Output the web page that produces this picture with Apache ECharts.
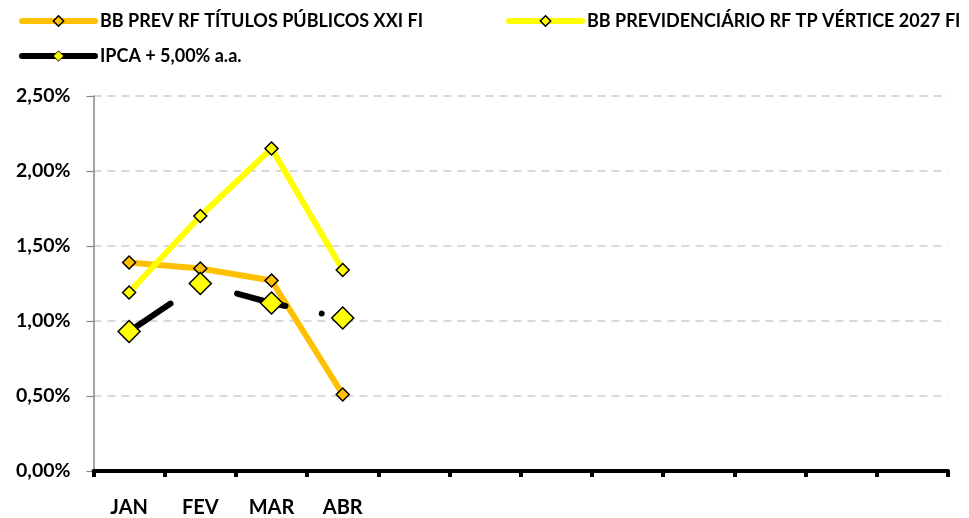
<!DOCTYPE html>
<html>
<head>
<meta charset="utf-8">
<script src="https://cdn.jsdelivr.net/npm/echarts@6/dist/echarts.min.js"></script>
<style>
html,body{margin:0;padding:0;background:#fff;}
#c{width:969px;height:518px;}
</style>
</head>
<body>
<div id="c"></div>
<script>
const categories = ['JAN','FEV','MAR','ABR','','','','','','','',''];
const tituloXXI = [1.39, 1.35, 1.27, 0.51];
const vertice2027 = [1.19, 1.70, 2.15, 1.34];
const ipca5 = [0.93, 1.25, 1.12, 1.02];
const yTicks = {min: 0, max: 2.5, interval: 0.5};
const seriesNames = ['BB PREV RF TÍTULOS PÚBLICOS XXI FI','BB PREVIDENCIÁRIO RF TP VÉRTICE 2027 FI','IPCA + 5,00% a.a.'];

const FONT = 'Lato';
const chart = echarts.init(document.getElementById('c'), null, {renderer:'canvas'});
const txt = {fontFamily: FONT, fontWeight: 'bold', fontSize: 19, color: '#000'};
const legText = Object.assign({}, txt, {fontSize: 18, lineHeight: 20});
const legLine = () => ({type: 'solid', width: 6, cap: 'round'});

chart.setOption({
  animation: false,
  backgroundColor: '#fff',
  legend: [
    {
      orient: 'vertical', left: 19, top: 11, padding: 0, itemWidth: 73, itemHeight: 13, itemGap: 15,
      textStyle: legText,
      data: [
        {name: seriesNames[0], lineStyle: legLine(), itemStyle: {color:'#FFC000', borderColor:'#000', borderWidth:1.5}},
        {name: seriesNames[2], lineStyle: legLine(), itemStyle: {color:'#FFFF00', borderColor:'#000', borderWidth:1}}
      ]
    },
    {
      orient: 'vertical', left: 506, top: 11, padding: 0, itemWidth: 73, itemHeight: 13,
      textStyle: legText,
      data: [{name: seriesNames[1], lineStyle: legLine(), itemStyle: {color:'#FFFF00', borderColor:'#000', borderWidth:1.5}}]
    }
  ],
  grid: {left: 93.5, right: 21, top: 96, bottom: 47, containLabel: false},
  xAxis: {
    type: 'category',
    data: categories,
    boundaryGap: true,
    axisLine: {lineStyle: {color: '#000', width: 4}},
    axisTick: {show: true, length: 6, lineStyle: {color:'#000', width: 4}, alignWithLabel: false, interval: 0},
    axisLabel: Object.assign({}, txt, {fontSize: 20, margin: 27, interval: 0}),
    splitLine: {show: false}
  },
  yAxis: {
    type: 'value',
    min: yTicks.min, max: yTicks.max, interval: yTicks.interval,
    axisLine: {show: true, lineStyle: {color: '#868686', width: 1.5}},
    axisTick: {show: true, length: 7, lineStyle: {color: '#868686', width: 1.2}},
    axisLabel: Object.assign({}, txt, {fontSize: 19.5, margin: 23, formatter: v => v.toFixed(2).replace('.', ',') + '%'}),
    splitLine: {show: true, lineStyle: {color: '#d9d9d9', width: 2, type: [8, 6]}}
  },
  series: [
    {
      name: seriesNames[0], type: 'line', data: tituloXXI,
      symbol: 'diamond', symbolSize: 13,
      lineStyle: {color: '#FFC000', width: 6, cap: 'round', join: 'round'},
      itemStyle: {color: '#FFC000', borderColor: '#000', borderWidth: 1.5},
      z: 2
    },
    {
      name: seriesNames[1], type: 'line', data: vertice2027,
      symbol: 'diamond', symbolSize: 13,
      lineStyle: {color: '#FFFF00', width: 6, cap: 'round', join: 'round'},
      itemStyle: {color: '#FFFF00', borderColor: '#000', borderWidth: 1.5},
      z: 3
    },
    {
      name: seriesNames[2], type: 'line', data: ipca5,
      symbol: 'diamond', symbolSize: 22,
      lineStyle: {color: '#000', width: 6, cap: 'round', join: 'round', type: [50, 37, 0.01, 37]},
      itemStyle: {color: '#FFFF00', borderColor: '#000', borderWidth: 1.5},
      z: 4
    }
  ]
});
</script>
</body>
</html>
